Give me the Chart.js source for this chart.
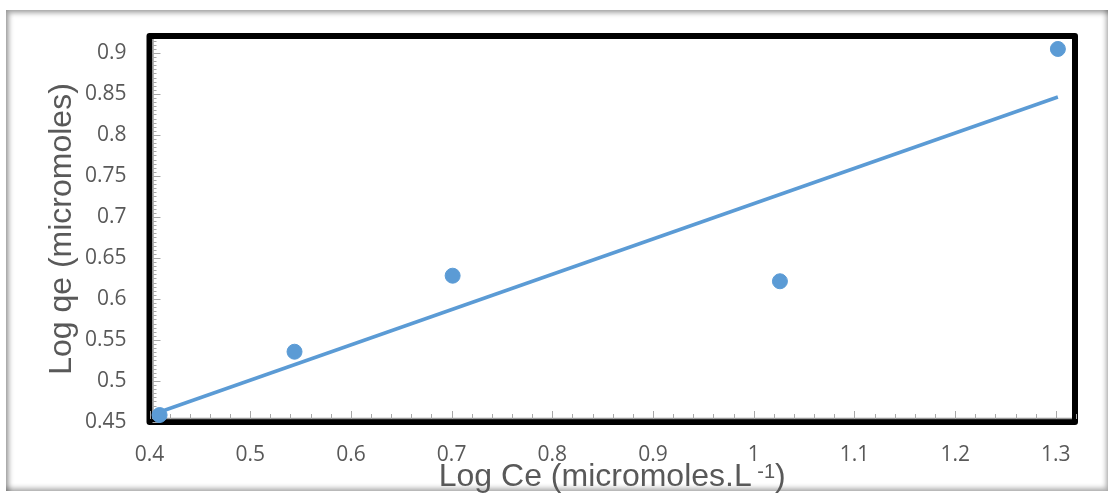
<!DOCTYPE html>
<html>
<head>
<meta charset="utf-8">
<script src="https://cdn.jsdelivr.net/npm/chart.js@4"></script>
<style>
  html, body { margin: 0; padding: 0; background: #fff; }
  #wrap { position: relative; width: 1114px; height: 493px; }
  #frame {
    position: absolute; left: 6px; top: 10px; width: 1102px; height: 481px;
    box-shadow: inset 3px 3px 5px rgba(0,0,0,0.35), inset -2px -3px 5px rgba(0,0,0,0.3);
  }
  canvas { position: absolute; left: 0; top: 0; }
</style>
</head>
<body>
<div id="wrap">
  <div id="frame"></div>
  <canvas id="chart" width="1114" height="493"></canvas>
</div>
<script>
const logCe = [0.410, 0.544, 0.701, 1.026, 1.302];
const logQe = [0.4585, 0.5357, 0.6284, 0.6216, 0.9049];

// fitted line, end points
const trendX = [0.410, 1.302];
const trendY = [0.4622, 0.8463];

const xTicks = [0.4, 0.5, 0.6, 0.7, 0.8, 0.9, 1, 1.1, 1.2, 1.3];
const yTicks = [0.45, 0.5, 0.55, 0.6, 0.65, 0.7, 0.75, 0.8, 0.85, 0.9];

const blue = '#5B9BD5';
const textColor = '#595959';

// black frame round the plot area, with small inside ticks on the axes
const boxPlugin = {
  id: 'box',
  beforeDatasetsDraw(chart) {
    const { ctx, chartArea: a, scales } = chart;
    ctx.save();
    ctx.strokeStyle = '#000';
    ctx.lineWidth = 6;
    ctx.lineJoin = 'round';
    ctx.strokeRect(a.left, a.top, a.right - a.left, a.bottom - a.top);

    ctx.strokeStyle = '#9a9a9a';
    ctx.lineWidth = 1.5;
    ctx.beginPath();
    ctx.moveTo(a.left + 3.5, a.top + 3);
    ctx.lineTo(a.left + 3.5, a.bottom - 3.5);
    ctx.lineTo(a.right - 3, a.bottom - 3.5);
    ctx.stroke();

    ctx.strokeStyle = '#a8a8a8';
    ctx.lineWidth = 1;
    for (let i = 0; i <= 46; i++) {
      const v = 0.4 + i * 0.02;
      const px = Math.round(scales.x.getPixelForValue(v)) + 0.5;
      const len = i % 5 === 0 ? 8 : 5;
      ctx.beginPath();
      ctx.moveTo(px, a.bottom - 3);
      ctx.lineTo(px, a.bottom - 3 - len);
      ctx.stroke();
    }
    for (let i = 0; i <= 94; i++) {
      const v = 0.45 + i * 0.005;
      if (v > 0.918) break;
      const py = Math.round(scales.y.getPixelForValue(v)) + 0.5;
      const len = i % 10 === 0 ? 8 : 4;
      ctx.beginPath();
      ctx.moveTo(a.left + 3, py);
      ctx.lineTo(a.left + 3 + len, py);
      ctx.stroke();
    }
    ctx.restore();
  }
};

// axis titles, the x one carries a superscript
const titleFont = '32px "Liberation Sans", Arial, sans-serif';
const supFont = '20px "Liberation Sans", Arial, sans-serif';

const titlePlugin = {
  id: 'titles',
  afterDraw(chart) {
    const { ctx, chartArea: a } = chart;
    ctx.save();
    ctx.fillStyle = textColor;
    ctx.textBaseline = 'alphabetic';

    ctx.font = titleFont;
    const main = 'Log Ce (micromoles.L';
    const close = ')';
    const wMain = ctx.measureText(main).width;
    const wClose = ctx.measureText(close).width;
    ctx.font = supFont;
    const sup = ' -1';
    const wSup = ctx.measureText(sup).width;
    const total = wMain + wSup + wClose;
    const x = (a.left + a.right) / 2 - total / 2;
    const base = 486;
    ctx.textAlign = 'left';
    ctx.font = titleFont;
    ctx.fillText(main, x, base);
    ctx.font = supFont;
    ctx.fillText(sup, x + wMain, base - 8);
    ctx.font = titleFont;
    ctx.fillText(close, x + wMain + wSup, base);

    ctx.translate(62, (a.top + a.bottom) / 2);
    ctx.rotate(-Math.PI / 2);
    ctx.textAlign = 'center';
    ctx.textBaseline = 'middle';
    ctx.fillText('Log qe (micromoles)', 0, 0);
    ctx.restore();
  }
};

const tickFont = { family: '"Open Sans", sans-serif', size: 21 };

new Chart(document.getElementById('chart'), {
  type: 'scatter',
  data: {
    datasets: [
      {
        label: 'Log qe',
        data: logCe.map((x, i) => ({ x, y: logQe[i] })),
        backgroundColor: blue,
        borderColor: blue,
        pointRadius: 7.5,
        pointHoverRadius: 7.5,
        order: 1
      },
      {
        label: 'Linear',
        data: trendX.map((x, i) => ({ x, y: trendY[i] })),
        showLine: true,
        borderColor: blue,
        borderWidth: 3.5,
        pointRadius: 0,
        order: 2
      }
    ]
  },
  options: {
    responsive: false,
    animation: false,
    clip: false,
    layout: { padding: { top: 36, right: 39, left: 0, bottom: 0 } },
    plugins: {
      legend: { display: false },
      tooltip: { enabled: false }
    },
    scales: {
      x: {
        type: 'linear',
        min: 0.4,
        max: 1.319,
        grid: { display: false, drawTicks: false },
        border: { display: false },
        afterBuildTicks: s => { s.ticks = xTicks.map(value => ({ value })); },
        afterFit: s => { s.height = 71; },
        ticks: {
          color: textColor,
          font: tickFont,
          padding: 20,
          maxRotation: 0,
          callback: v => String(Math.round(v * 10) / 10)
        }
      },
      y: {
        type: 'linear',
        min: 0.45,
        max: 0.9207,
        grid: { display: false, drawTicks: false },
        border: { display: false },
        afterBuildTicks: s => { s.ticks = yTicks.map(value => ({ value })); },
        afterFit: s => { s.width = 149.5; },
        ticks: {
          color: textColor,
          font: tickFont,
          padding: 23,
          callback: v => String(Math.round(v * 100) / 100)
        }
      }
    }
  },
  plugins: [boxPlugin, titlePlugin]
});
</script>
</body>
</html>
